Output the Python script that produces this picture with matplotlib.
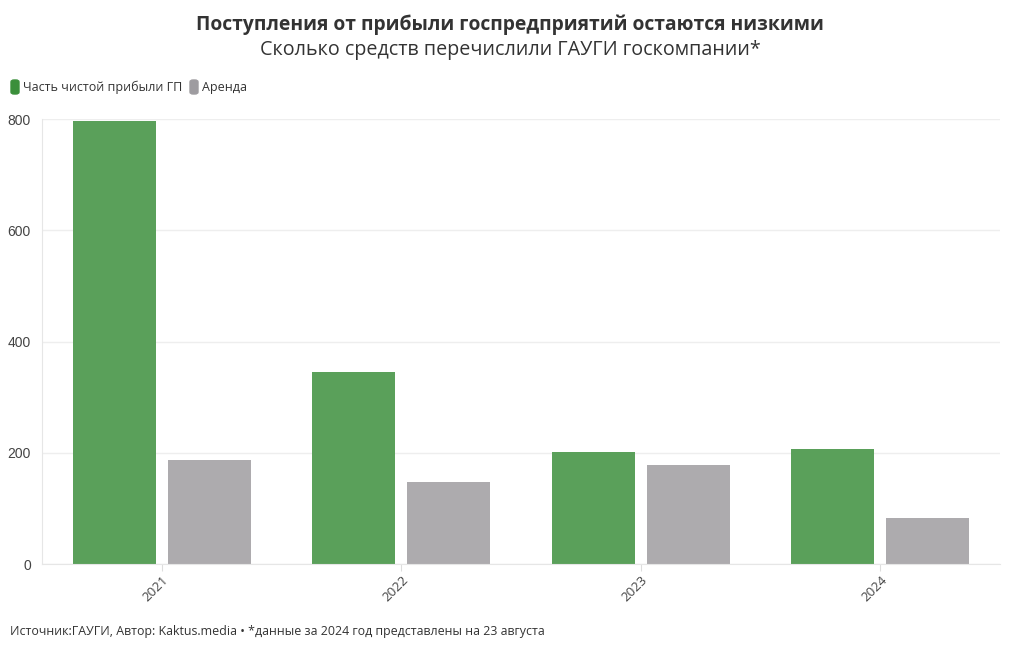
import numpy as np
import matplotlib.pyplot as plt
from matplotlib.patches import FancyBboxPatch

plt.rcParams['font.family'] = ['Open Sans', 'DejaVu Sans']

# данные
years = ['2021', '2022', '2023', '2024']
profit = [796, 345, 201, 207]   # Часть чистой прибыли ГП
rent = [187, 147, 178, 83]      # Аренда

green = '#5aa05a'
gray = '#adabae'

fig = plt.figure(figsize=(10.2, 6.5), dpi=100)
ax = fig.add_axes([0.0412, 0.1323, 0.9392, 0.6846])

x = np.arange(len(years))
w = 0.347
off = 0.198
ax.bar(x - off, profit, w, color=green)
ax.bar(x + off, rent, w, color=gray)

ax.set_xlim(-0.5, 3.5)
ax.set_ylim(0, 800)
ax.set_yticks([0, 200, 400, 600, 800])
ax.set_xticks(x)
ax.set_xticklabels(years, rotation=45, ha='right', rotation_mode='anchor',
                   fontsize=9.5, color='#444444')
for lab in ax.get_yticklabels():
    lab.set_fontfamily('Liberation Sans')
ax.tick_params(axis='y', length=0, pad=8, labelsize=10, labelcolor='#444444')
ax.tick_params(axis='x', length=5, color='#dddddd', pad=2)
ax.grid(axis='y', color='#eeeeee', lw=1)
ax.set_axisbelow(True)
for s in ['top', 'right']:
    ax.spines[s].set_visible(False)
ax.spines['left'].set_color('#e6e6e6')
ax.spines['bottom'].set_color('#e6e6e6')

# заголовки
fig.text(0.5, 1 - 25 / 650, 'Поступления от прибыли госпредприятий остаются низкими',
         ha='center', va='center', fontsize=13.9, fontweight='bold', color='#333333')
fig.text(0.5, 1 - 50 / 650, 'Сколько средств перечислили ГАУГИ госкомпании*',
         ha='center', va='center', fontsize=14.2, color='#333333')

# легенда
def legend_item(px, label, color):
    fig.patches.append(FancyBboxPatch((px / 1020, 1 - 94 / 650), 8 / 1020, 14 / 650,
                                      boxstyle='round,pad=0,rounding_size=0.003',
                                      transform=fig.transFigure, color=color))
    fig.text((px + 12) / 1020, 1 - 87 / 650, label, ha='left', va='center',
             fontsize=9, color='#333333')

legend_item(11, 'Часть чистой прибыли ГП', '#3a8f3a')
legend_item(190, 'Аренда', '#9e9ca0')

fig.text(10 / 1020, 1 - 631 / 650,
         'Источник:ГАУГИ, Автор: Kaktus.media • *данные за 2024 год представлены на 23 августа',
         ha='left', va='center', fontsize=8.9, color='#333333')

fig.savefig('out.png', dpi=100)
